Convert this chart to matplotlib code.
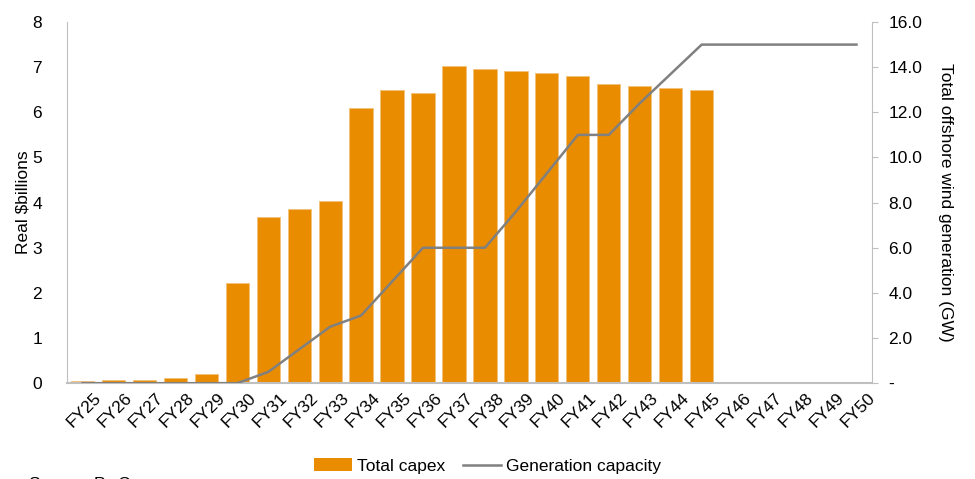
import matplotlib
matplotlib.use('Agg')
import matplotlib.pyplot as plt
import matplotlib.transforms as mtransforms
from matplotlib.patches import Patch
from matplotlib.lines import Line2D

plt.rcParams['font.family'] = ['Liberation Sans', 'DejaVu Sans']

years = ['FY25', 'FY26', 'FY27', 'FY28', 'FY29', 'FY30', 'FY31', 'FY32', 'FY33',
         'FY34', 'FY35', 'FY36', 'FY37', 'FY38', 'FY39', 'FY40', 'FY41', 'FY42',
         'FY43', 'FY44', 'FY45', 'FY46', 'FY47', 'FY48', 'FY49', 'FY50']
capex = [0.04, 0.08, 0.08, 0.11, 0.20, 2.23, 3.68, 3.85, 4.03, 6.09, 6.50, 6.43,
         7.03, 6.97, 6.91, 6.87, 6.81, 6.62, 6.58, 6.54, 6.49, 0, 0, 0, 0, 0]
capacity = [0, 0, 0, 0, 0, 0, 0.5, 1.5, 2.5, 3.0, 4.5, 6.0, 6.0, 6.0, 7.6, 9.3,
            11.0, 11.0, 12.4, 13.7, 15.0, 15.0, 15.0, 15.0, 15.0, 15.0]

orange = '#E98C00'
grey = '#808080'
spine_col = '#BFBFBF'

fig = plt.figure(figsize=(9.75, 4.79), dpi=100)
ax = fig.add_axes([0.0687, 0.2, 0.8256, 0.754])
x = list(range(len(years)))
ax.bar(x, capex, width=0.75, color=orange, edgecolor='#F2C27A', linewidth=0.6, zorder=2)
ax.set_xlim(-0.5, len(years) - 0.5)
ax.set_ylim(0, 8)
ax.set_yticks(range(0, 9))
ax.tick_params(axis='y', length=0, labelsize=12.5, pad=18)
ax.set_xticks(x)
ax.set_xticklabels(years, rotation=45, ha='right', rotation_mode='anchor', fontsize=12.5)
ax.tick_params(axis='x', length=0, pad=5)
offset = mtransforms.ScaledTranslation(0.11, 0, fig.dpi_scale_trans)
for lab in ax.get_xticklabels():
    lab.set_transform(lab.get_transform() + offset)
ax.set_ylabel('Real $billions', fontsize=12.5, labelpad=1)
for s in ['top', 'right']:
    ax.spines[s].set_visible(False)
ax.spines['left'].set_color(spine_col)
ax.spines['bottom'].set_color(spine_col)
ax.spines['bottom'].set_linewidth(1.5)

ax2 = ax.twinx()
ax2.plot(x, capacity, color=grey, linewidth=1.8, zorder=3)
ax2.set_ylim(0, 16)
ax2.set_yticks(range(0, 17, 2))
ax2.set_yticklabels(['-'] + ['%.1f' % v for v in range(2, 17, 2)])
ax2.tick_params(axis='y', length=4, color=spine_col, labelsize=12.5, pad=8)
ax2.set_ylabel('Total offshore wind generation (GW)', fontsize=12.5, rotation=-90, labelpad=22)
for s in ['top', 'left', 'bottom']:
    ax2.spines[s].set_visible(False)
ax2.spines['right'].set_color(spine_col)

handles = [Patch(facecolor=orange, label='Total capex'),
           Line2D([0], [0], color=grey, linewidth=1.8, label='Generation capacity')]
fig.legend(handles=handles, loc='center', bbox_to_anchor=(0.5, 0.027), ncol=2,
           frameon=False, fontsize=12.5, handlelength=2.2, handletextpad=0.3, columnspacing=1.0)

fig.text(0.03, -0.012, 'Source: PwC', fontsize=12.5, va='center')

fig.savefig('out.png', dpi=100)
